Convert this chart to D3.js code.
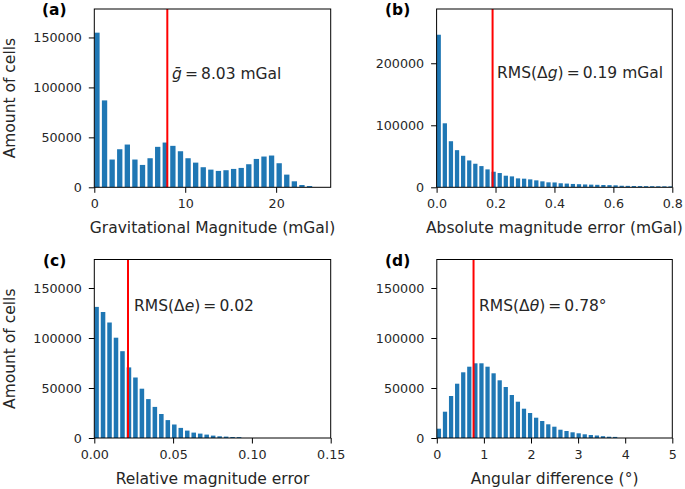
<!DOCTYPE html>
<html>
<head>
<meta charset="utf-8">
<script src="https://cdn.jsdelivr.net/npm/d3@7"></script>
<style>
  html, body { margin: 0; padding: 0; background: #fff; }
  svg { display: block; font-family: "DejaVu Sans", sans-serif; }
</style>
</head>
<body>
<svg id="chart" width="685" height="489"></svg>
<script>
// ---- Data ----
// (a) Gravitational magnitude histogram
const aCounts = [154800, 87000, 27800, 38100, 42800, 27800, 22400, 29100, 40500, 44800,
                 41500, 36100, 29100, 24700, 20100, 17700, 16400, 17100, 18400, 19400,
                 23100, 28400, 30800, 31800, 24100, 12700, 6000, 2300, 1300];
const aBinWidth = 0.835;
const aLine = 8.03;
const aXTicks = [0, 10, 20];
const aXDomain = [0, 26];

// (b) Absolute magnitude error histogram
const bCounts = [246000, 103200, 74300, 59900, 50800, 43300, 38000, 34200, 28900, 25100,
                 23000, 18700, 17600, 14400, 13900, 12800, 11200, 9600, 8000, 7800,
                 6500, 6000, 5400, 5000, 4600, 4300, 4000, 3700, 3500, 3200,
                 2500, 2300, 2100, 2000, 1900, 1800, 1700, 1600, 1500];
const bBinWidth = 0.0207;
const bLine = 0.19;
const bXTicks = [0.0, 0.2, 0.4, 0.6, 0.8];
const bXDomain = [0, 0.8];

// (c) Relative magnitude error histogram
const cCounts = [131100, 126000, 115500, 100300, 86800, 70600, 60500, 49300, 38900, 31100,
                 24000, 17900, 13500, 10100, 7400, 5400, 4400, 3400, 2400, 1700,
                 1400, 1000, 900];
const cBinWidth = 0.00411;
const cLine = 0.0214;
const cXTicks = [0.00, 0.05, 0.10, 0.15];
const cXDomain = [0, 0.15];

// (d) Angular difference histogram
const dCounts = [9300, 26300, 42000, 54300, 65700, 71300, 74700, 74700, 71300, 64700,
                 57700, 51000, 43000, 36300, 29300, 25000, 20300, 17000, 13700, 11300,
                 8300, 7000, 5700, 4700, 3700, 3000, 2500, 1800, 1300, 1100];
const dBinWidth = 0.129;
const dLine = 0.78;
const dXTicks = [0, 1, 2, 3, 4, 5];
const dXDomain = [0, 5];

const yTicksSmall = [0, 50000, 100000, 150000];
const yTicksLarge = [0, 100000, 200000];
const yMaxSmall = 178500;
const yMaxLarge = 287500;

const panelLabels = ["(a)", "(b)", "(c)", "(d)"];
const xLabels = ["Gravitational Magnitude (mGal)", "Absolute magnitude error (mGal)",
                 "Relative magnitude error", "Angular difference (°)"];
const yLabel = "Amount of cells";

// ---- Layout ----
const svg = d3.select("#chart");
const barColor = "#1f77b4";
const textColor = "#262626";
const tickFont = 12.7;
const labelFont = 15.5;
const TS = "\u2009";

const panels = [
  {counts: aCounts, bw: aBinWidth, line: aLine, xTicks: aXTicks, xDomain: aXDomain,
   yTicks: yTicksSmall, yMax: yMaxSmall, fmt: d3.format("d"),
   left: 94.3, right: 330.7, top: 9, bottom: 187.3, ylab: true,
   label: panelLabels[0], xlabel: xLabels[0], labelX: 42,
   ann: [{t: "ḡ", it: true}, {t: TS + "=" + TS + "8.03 mGal"}], annX: 172, annY: 79},
  {counts: bCounts, bw: bBinWidth, line: bLine, xTicks: bXTicks, xDomain: bXDomain,
   yTicks: yTicksLarge, yMax: yMaxLarge, fmt: d3.format(".1f"),
   left: 436.6, right: 672.3, top: 9, bottom: 187.3, ylab: false,
   label: panelLabels[1], xlabel: xLabels[1], labelX: 385,
   ann: [{t: "RMS(Δ"}, {t: "g", it: true}, {t: ")" + TS + "=" + TS + "0.19 mGal"}], annX: 497, annY: 78},
  {counts: cCounts, bw: cBinWidth, line: cLine, xTicks: cXTicks, xDomain: cXDomain,
   yTicks: yTicksSmall, yMax: yMaxSmall, fmt: d3.format(".2f"),
   left: 94.3, right: 330.7, top: 259.5, bottom: 438, ylab: true,
   label: panelLabels[2], xlabel: xLabels[2], labelX: 43,
   ann: [{t: "RMS(Δ"}, {t: "e", it: true}, {t: ")" + TS + "=" + TS + "0.02"}], annX: 134, annY: 310.5},
  {counts: dCounts, bw: dBinWidth, line: dLine, xTicks: dXTicks, xDomain: dXDomain,
   yTicks: yTicksSmall, yMax: yMaxSmall, fmt: d3.format("d"),
   left: 436.8, right: 672.3, top: 259.5, bottom: 438, ylab: false,
   label: panelLabels[3], xlabel: xLabels[3], labelX: 385,
   ann: [{t: "RMS(Δ"}, {t: "θ", it: true}, {t: ")" + TS + "=" + TS + "0.78°"}], annX: 479, annY: 311}
];

panels.forEach((p, i) => {
  const x = d3.scaleLinear().domain(p.xDomain).range([p.left, p.right]);
  const y = d3.scaleLinear().domain([0, p.yMax]).range([p.bottom, p.top]);
  const g = svg.append("g");

  const clipId = "clip" + i;
  svg.append("clipPath").attr("id", clipId).append("rect")
    .attr("x", p.left).attr("y", p.top)
    .attr("width", p.right - p.left).attr("height", p.bottom - p.top);

  const bars = p.counts.map((c, k) => ({x0: k * p.bw, x1: (k + 1) * p.bw, c}));
  const frac = 0.7;
  g.append("g").attr("clip-path", `url(#${clipId})`)
    .selectAll("rect").data(bars).enter().append("rect")
    .attr("x", d => x(d.x0))
    .attr("width", d => (x(d.x1) - x(d.x0)) * frac)
    .attr("y", d => y(d.c))
    .attr("height", d => y(0) - y(d.c))
    .attr("fill", barColor);

  // red line
  g.append("line")
    .attr("x1", x(p.line)).attr("x2", x(p.line))
    .attr("y1", p.top).attr("y2", p.bottom)
    .attr("stroke", "red").attr("stroke-width", 2);

  // frame
  g.append("rect")
    .attr("x", p.left).attr("y", p.top)
    .attr("width", p.right - p.left).attr("height", p.bottom - p.top)
    .attr("fill", "none").attr("stroke", "#000").attr("stroke-width", 1);

  // axes
  const xAxis = d3.axisBottom(x).tickValues(p.xTicks).tickFormat(p.fmt)
    .tickSizeInner(5.5).tickSizeOuter(0).tickPadding(6);
  const gx = g.append("g").attr("transform", `translate(0,${p.bottom})`).call(xAxis);
  const yAxis = d3.axisLeft(y).tickValues(p.yTicks).tickFormat(d3.format("d"))
    .tickSizeInner(5.5).tickSizeOuter(0).tickPadding(7);
  const gy = g.append("g").attr("transform", `translate(${p.left},0)`).call(yAxis);
  [gx, gy].forEach(ax => {
    ax.select(".domain").remove();
    ax.selectAll("line").attr("stroke", "#000").attr("stroke-width", 1);
    ax.selectAll("text").attr("fill", textColor)
      .style("font-size", tickFont + "px").style("font-family", "'DejaVu Sans', sans-serif");
  });

  // x label
  g.append("text")
    .attr("x", (p.left + p.right) / 2).attr("y", p.bottom + 45.5)
    .attr("text-anchor", "middle").attr("fill", textColor)
    .style("font-size", labelFont + "px")
    .text(p.xlabel);

  // y label
  if (p.ylab) {
    g.append("text")
      .attr("transform", `translate(15,${(p.top + p.bottom) / 2}) rotate(-90)`)
      .attr("text-anchor", "middle").attr("fill", textColor)
      .style("font-size", labelFont + "px")
      .text(yLabel);
  }

  // panel label
  g.append("text")
    .attr("x", p.labelX).attr("y", p.top + 6)
    .attr("fill", "#000").style("font-size", "15.5px").style("font-weight", "bold")
    .text(p.label);

  // annotation
  const t = g.append("text")
    .attr("x", p.annX).attr("y", p.annY)
    .attr("fill", textColor).style("font-size", labelFont + "px")
    .attr("xml:space", "preserve");
  p.ann.forEach(s => {
    t.append("tspan").style("font-style", s.it ? "italic" : "normal").text(s.t);
  });
});
</script>
</body>
</html>
